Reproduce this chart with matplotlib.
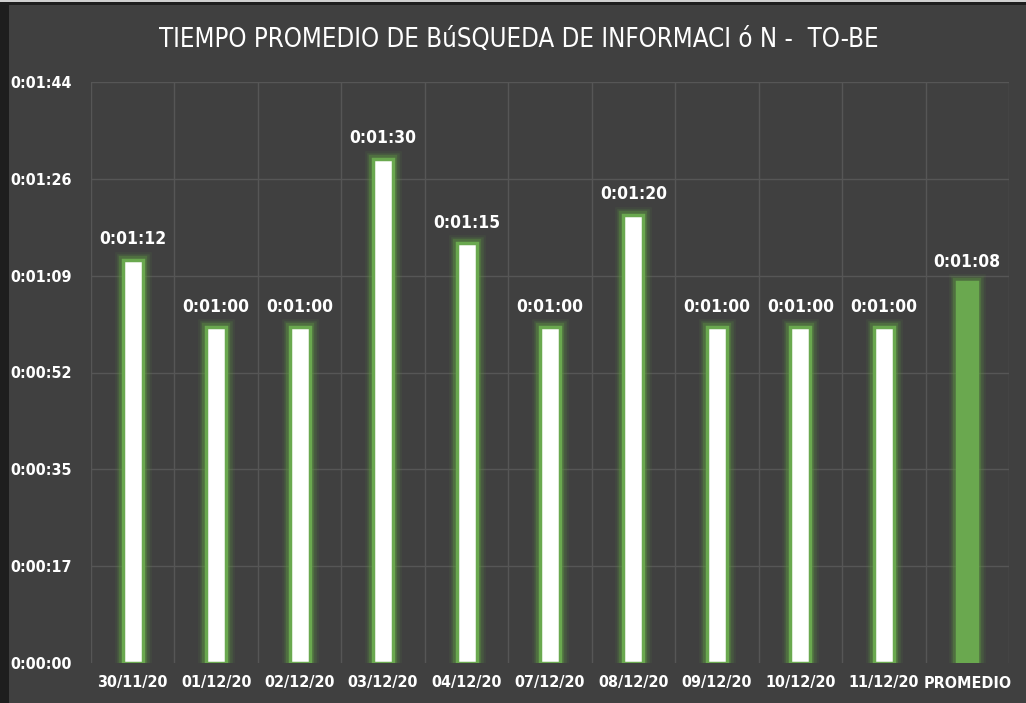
import matplotlib
matplotlib.use("Agg")
import matplotlib.pyplot as plt
from matplotlib.patches import Rectangle

categories = ["30/11/20", "01/12/20", "02/12/20", "03/12/20", "04/12/20", "07/12/20",
              "08/12/20", "09/12/20", "10/12/20", "11/12/20", "PROMEDIO"]
seconds = [72, 60, 60, 90, 75, 60, 80, 60, 60, 60, 68]
value_labels = ["0:01:12", "0:01:00", "0:01:00", "0:01:30", "0:01:15", "0:01:00",
                "0:01:20", "0:01:00", "0:01:00", "0:01:00", "0:01:08"]
ytick_values = [0, 17.28, 34.56, 51.84, 69.12, 86.4, 103.68]
ytick_labels = ["0:00:00", "0:00:17", "0:00:35", "0:00:52", "0:01:09", "0:01:26", "0:01:44"]
title = "TIEMPO PROMEDIO DE BúSQUEDA DE INFORMACI ó N -  TO-BE"

plt.rcParams['font.family'] = ['DejaVu Sans']
plt.rcParams['font.stretch'] = 'condensed'

BG = "#404040"
GRID = "#565656"
GREEN = "#6aa84f"
GLOW = "#5c9440"

fig = plt.figure(figsize=(10.26, 7.03), dpi=100, facecolor=BG)
# left dark strip and top border lines like the screenshot
fig.patches.append(Rectangle((0, 0), 9/1026, 1, transform=fig.transFigure,
                             facecolor="#1e1e1e", edgecolor="none", zorder=0))
fig.patches.append(Rectangle((0, 1 - 5/703), 1, 5/703, transform=fig.transFigure,
                             facecolor="#1e1e1e", edgecolor="none", zorder=0))
fig.patches.append(Rectangle((0, 1 - 2/703), 1, 2/703, transform=fig.transFigure,
                             facecolor="#d0d0d0", edgecolor="none", zorder=0))

ax = fig.add_axes([91/1026, 1 - 663/703, (1009-91)/1026, (663-82)/703])
ax.set_facecolor(BG)

n = len(categories)
x = list(range(n))
ax.set_xlim(-0.5, n - 0.5)
ax.set_ylim(0, 103.68)

for b in range(n + 1):
    ax.axvline(b - 0.5, color=GRID, lw=1.0, zorder=0)
for t in ytick_values[1:]:
    ax.axhline(t, color=GRID, lw=1.0, zorder=0)

w = 0.24
for lw, a in [(12, 0.10), (9, 0.2), (6, 0.4)]:
    ax.bar(x, seconds, width=w, fill=False, edgecolor=GLOW, alpha=a,
           linewidth=lw, zorder=2)
fills = ["white"] * (n - 1) + [GREEN]
ax.bar(x, seconds, width=w, color=fills, edgecolor=GREEN, linewidth=2.5, zorder=3)

for xi, s, lab in zip(x, seconds, value_labels):
    ax.text(xi, s + 2.0, lab, ha="center", va="bottom", color="white",
            fontsize=12.5, fontweight="bold", zorder=4)

ax.set_xticks(x)
ax.set_xticklabels(categories, color="white", fontsize=11.5, fontweight="bold")
ax.set_yticks(ytick_values)
ax.set_yticklabels(ytick_labels, color="white", fontsize=11.5, fontweight="bold")
ax.tick_params(length=0, pad=9)
ax.tick_params(axis="y", pad=14)
for sp in ax.spines.values():
    sp.set_visible(False)

fig.text(519/1026, 1 - 40/703, title, ha="center", va="center", color="white",
         fontsize=18.5)

fig.savefig("out.png", dpi=100, facecolor=BG)
